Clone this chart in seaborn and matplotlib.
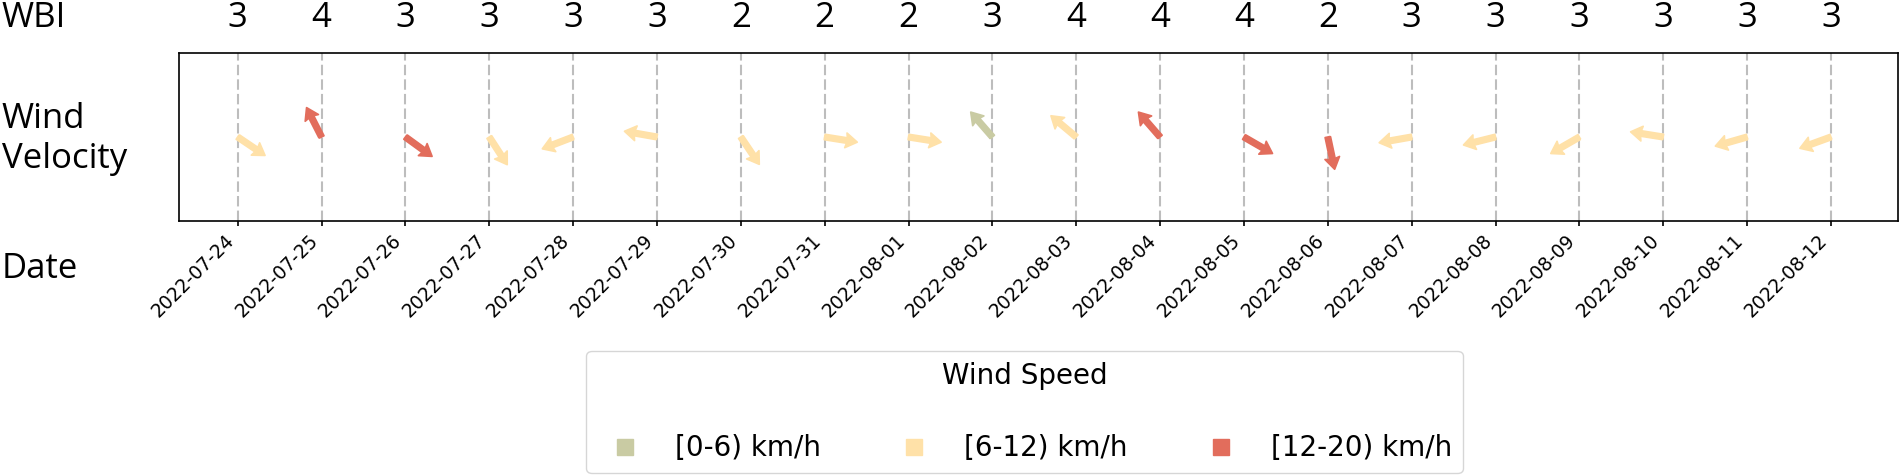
import numpy as np
import pandas as pd
import matplotlib
matplotlib.use('Agg')
import matplotlib.pyplot as plt
import matplotlib.dates as mdates
import matplotlib.transforms as mtransforms
from matplotlib.lines import Line2D
import seaborn as sns

# Data
dates = pd.date_range('2022-07-24', '2022-08-12', freq='D')
wbi = [3, 4, 3, 3, 3, 3, 2, 2, 2, 3, 4, 4, 4, 2, 3, 3, 3, 3, 3, 3]
# direction the wind comes from (degrees, 0 = north)
wind_dir = [304, 153, 306, 327, 69, 100, 326, 279, 279, 139,
            130, 139, 300, 348, 80, 76, 60, 99, 74, 70]
# estimated wind speed (km/h)
wind_speed = [8, 14, 13, 9, 9, 8, 7, 9, 10, 5,
              8, 13, 15, 13, 9, 10, 8, 9, 10, 9]
speed_bins = [0, 6, 12, 20]
speed_labels = ['[0-6) km/h', '[6-12) km/h', '[12-20) km/h']
palette = sns.color_palette(['#c9cba3', '#ffe1a8', '#e26d5c'])

df = pd.DataFrame({'date': dates, 'wbi': wbi, 'dir': wind_dir, 'speed': wind_speed})
df['cls'] = pd.cut(df['speed'], speed_bins, right=False, labels=speed_labels)
df['color'] = [palette[speed_labels.index(c)] for c in df['cls']]
df['u'] = -np.sin(np.radians(df['dir']))
df['v'] = -np.cos(np.radians(df['dir']))

# Style
sns.set_style('ticks')
plt.rcParams['font.family'] = ['DejaVu Sans']
plt.rcParams['text.color'] = 'black'
plt.rcParams['xtick.color'] = 'black'
plt.rcParams['axes.edgecolor'] = 'black'
big = dict(family=['Open Sans', 'DejaVu Sans'], fontsize=25, color='black')

W, H = 1900, 476
fig = plt.figure(figsize=(W / 100, H / 100), dpi=100)
ax = fig.add_axes([179 / W, 1 - 221 / H, (1898 - 179) / W, (221 - 53) / H])

x = mdates.date2num(df['date'])

# dashed day lines
ax.vlines(x, -1, 1, colors='#bdbdbd', linewidth=1.5, linestyles=(0, (5, 2)), zorder=1)

# wind arrows
ax.quiver(x, np.zeros(len(x)), df['u'], df['v'], color=df['color'].tolist(),
          edgecolor=df['color'].tolist(), linewidth=1.2, joinstyle='round',
          pivot='tail', angles='uv', scale_units='inches', scale=1 / 0.33,
          units='inches', width=0.055, headwidth=2.7, headlength=2.1,
          headaxislength=1.9, zorder=3)

ax.set_ylim(-1, 1)
ax.set_yticks([])
ax.set_xlim(x[0] - 0.7, x[-1] + 0.8)
ax.set_xticks(x)
ax.set_xticklabels(df['date'].dt.strftime('%Y-%m-%d'), rotation=45, ha='right', fontsize=13.5)
ax.tick_params(axis='x', colors='black', width=1.2)
for s in ax.spines.values():
    s.set_color('black')
    s.set_linewidth(1.2)

# row labels
fig.text(0.001, 1 - 27 / H, 'WBI', ha='left', va='baseline', **big)
trans = mtransforms.blended_transform_factory(ax.transData, fig.transFigure)
for xi, w in zip(x, df['wbi']):
    ax.text(xi, 1 - 27 / H, str(w), transform=trans, ha='center', va='baseline', **big)
fig.text(0.001, 1 - 139 / H, 'Wind\nVelocity', ha='left', va='center', **big)
fig.text(0.001, 1 - 278 / H, 'Date', ha='left', va='baseline', **big)

# legend
handles = [Line2D([], [], marker='s', linestyle='', color=c, markersize=12) for c in palette]
leg = fig.legend(handles, speed_labels, title='Wind Speed', ncol=3, loc='center',
                 bbox_to_anchor=(1024.5 / W, 1 - 412 / H), fontsize=20, title_fontsize=20,
                 labelspacing=1.6, columnspacing=2.35, frameon=True)
for t in leg.get_texts():
    t.set_color('black')
leg.get_title().set_color('black')

fig.savefig('out.png', dpi=100)
